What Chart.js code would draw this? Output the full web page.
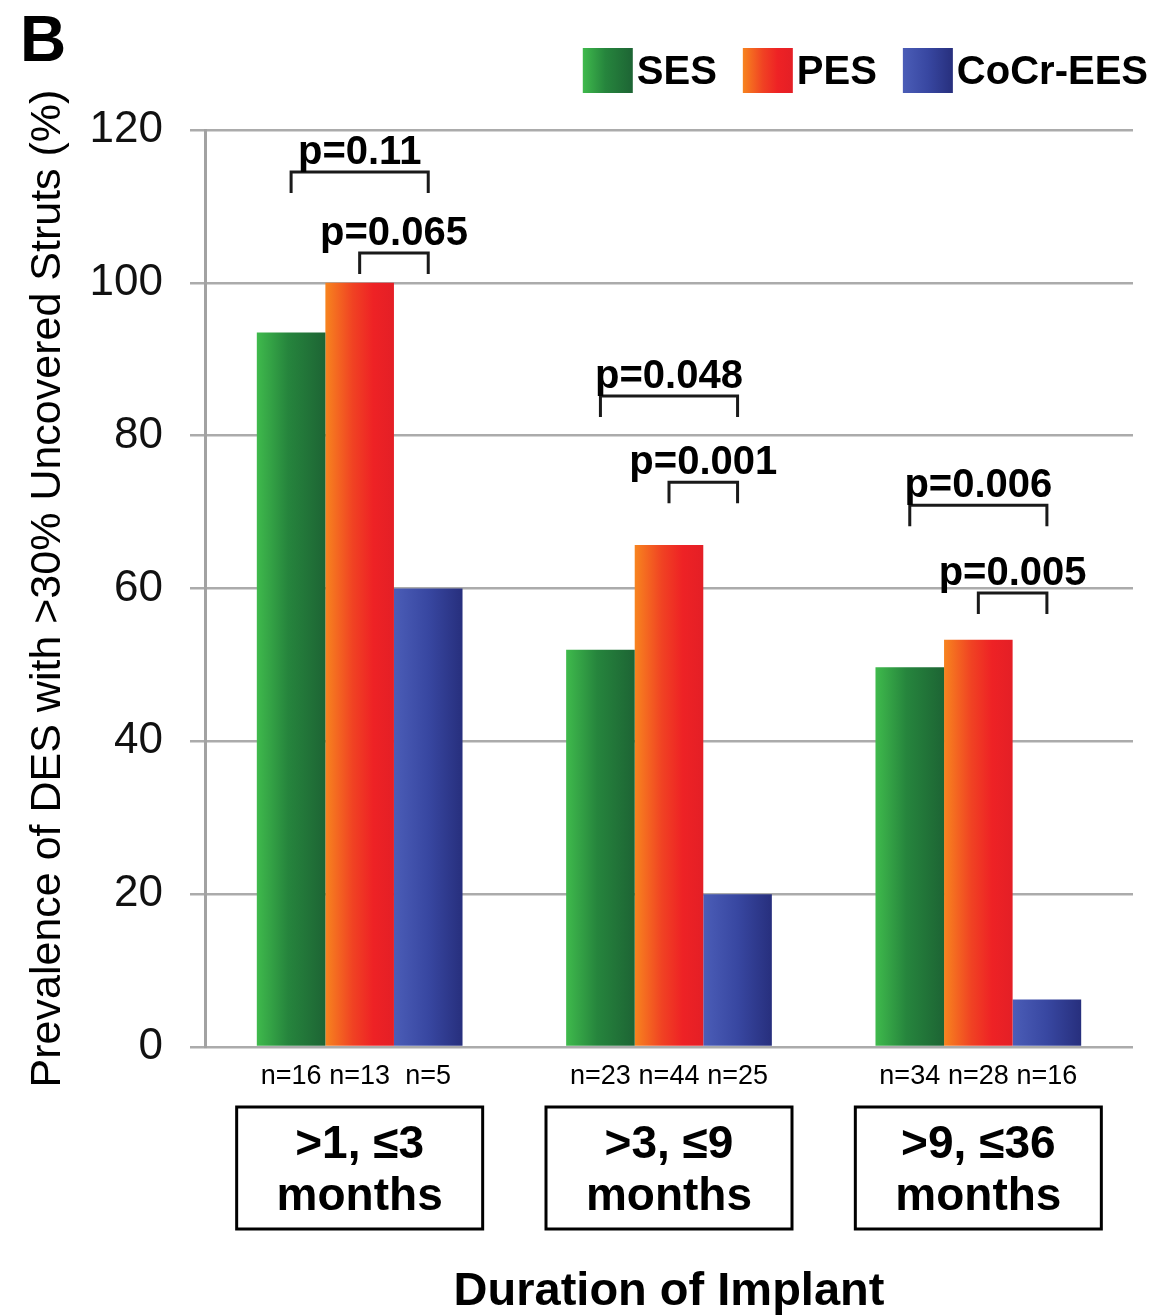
<!DOCTYPE html>
<html>
<head>
<meta charset="utf-8">
<title>Prevalence of uncovered struts by implant duration</title>
<script src="https://cdn.jsdelivr.net/npm/chart.js@4.4.1/dist/chart.umd.min.js"></script>
<style>
  html, body { margin: 0; padding: 0; background: #fff; }
  #wrap { width: 1174px; height: 1316px; position: relative; }
</style>
</head>
<body>
<div id="wrap"><canvas id="chart"></canvas></div>
<script>
// Data
const durationLabels = [['>1, \u22643', 'months'], ['>3, \u22649', 'months'], ['>9, \u226436', 'months']];
const seriesNames = ['SES', 'PES', 'CoCr-EES'];
const sesValues = [93.5, 52, 49.7];
const pesValues = [100, 65.7, 53.3];
const eesValues = [60, 20, 6.2];
const sesCounts = [16, 23, 34];
const pesCounts = [13, 44, 28];
const eesCounts = [5, 25, 16];
const yMin = 0, yMax = 120, yStep = 20;
// p-value brackets: [group, from series, to series, height (%), label]
const pBrackets = [
    [0, 0, 2, 114.5, 'p=0.11'],
    [0, 1, 2, 103.9, 'p=0.065'],
    [1, 0, 2, 85.2, 'p=0.048'],
    [1, 1, 2, 73.9, 'p=0.001'],
    [2, 0, 2, 70.9, 'p=0.006'],
    [2, 1, 2, 59.4, 'p=0.005']
];

const FONT = '"Liberation Sans", Arial, Helvetica, sans-serif';
Chart.defaults.font.family = FONT;
Chart.defaults.color = '#111';

// horizontal gradient for every bar, light on the left, dark on the right
const barStops = [
    [[0, '#3fba4c'], [0.45, '#26853d'], [1, '#1d6434']],
    [[0, '#f7841f'], [0.4, '#f04223'], [0.7, '#ee2225'], [1, '#e41f26']],
    [[0, '#4b5db7'], [0.5, '#3847a1'], [1, '#272f7d']]
];
const counts = [sesCounts, pesCounts, eesCounts];

function fillGradient(ctx, x0, x1, stops) {
    const g = ctx.createLinearGradient(x0, 0, x1, 0);
    stops.forEach(s => g.addColorStop(s[0], s[1]));
    return g;
}

const figurePlugin = {
    id: 'figure',
    beforeDatasetsDraw(chart) {
        const ctx = chart.ctx;
        chart.data.datasets.forEach((ds, i) => {
            chart.getDatasetMeta(i).data.forEach(bar => {
                const g = fillGradient(ctx, bar.x - bar.width / 2, bar.x + bar.width / 2, barStops[i]);
                bar.options = Object.assign({}, bar.options, { backgroundColor: g });
            });
        });
    },
    afterDraw(chart) {
        const ctx = chart.ctx;
        const area = chart.chartArea;
        const y = chart.scales.y;
        const x = chart.scales.x;
        ctx.save();

        // panel letter
        ctx.fillStyle = '#000';
        ctx.font = 'bold 64px ' + FONT;
        ctx.textAlign = 'left';
        ctx.textBaseline = 'alphabetic';
        ctx.fillText('B', 20, 61);

        // legend (right aligned above the plot)
        ctx.font = 'bold 40px ' + FONT;
        ctx.textBaseline = 'middle';
        const boxW = 50, boxH = 45, gapText = 4, gapItem = 26;
        const widths = seriesNames.map(n => boxW + gapText + ctx.measureText(n).width);
        let lx = 1148 - widths.reduce((a, b) => a + b, 0) - gapItem * (seriesNames.length - 1);
        seriesNames.forEach((name, i) => {
            ctx.fillStyle = fillGradient(ctx, lx, lx + boxW, barStops[i]);
            ctx.fillRect(lx, 48, boxW, boxH);
            ctx.fillStyle = '#000';
            ctx.fillText(name, lx + boxW + gapText, 73);
            lx += widths[i] + gapItem;
        });

        // p-value brackets
        ctx.strokeStyle = '#1a1a1a';
        ctx.lineWidth = 3;
        ctx.font = 'bold 40px ' + FONT;
        ctx.textAlign = 'center';
        ctx.textBaseline = 'alphabetic';
        pBrackets.forEach(b => {
            const x0 = chart.getDatasetMeta(b[1]).data[b[0]].x;
            const x1 = chart.getDatasetMeta(b[2]).data[b[0]].x;
            const top = y.getPixelForValue(b[3]);
            ctx.beginPath();
            ctx.moveTo(x0, top + 21);
            ctx.lineTo(x0, top);
            ctx.lineTo(x1, top);
            ctx.lineTo(x1, top + 21);
            ctx.stroke();
            ctx.fillStyle = '#000';
            ctx.fillText(b[4], (x0 + x1) / 2, top - 8);
        });

        // sample sizes under each bar
        ctx.font = '27px ' + FONT;
        ctx.textBaseline = 'middle';
        counts.forEach((list, i) => {
            chart.getDatasetMeta(i).data.forEach((bar, j) => {
                ctx.fillText('n=' + list[j], bar.x, area.bottom + 30);
            });
        });

        // boxes around the duration labels
        ctx.strokeStyle = '#000';
        ctx.lineWidth = 3;
        durationLabels.forEach((l, i) => {
            const cx = x.getPixelForTick(i);
            ctx.strokeRect(cx - 123, area.bottom + 60, 246, 122);
        });
        ctx.restore();
    }
};

function makeDataset(label, values) {
    return {
        label: label,
        data: values,
        backgroundColor: () => '#888',
        borderWidth: 0,
        barPercentage: 1.0,
        categoryPercentage: 0.665
    };
}

document.addEventListener('DOMContentLoaded', function() {
    const ctx = document.getElementById('chart').getContext('2d');
    new Chart(ctx, {
        type: 'bar',
        data: {
            labels: durationLabels,
            datasets: [
                makeDataset(seriesNames[0], sesValues),
                makeDataset(seriesNames[1], pesValues),
                makeDataset(seriesNames[2], eesValues)
            ]
        },
        options: {
            responsive: true,
            maintainAspectRatio: false,
            animation: false,
            events: [],
            layout: { padding: { top: 130, right: 41, left: 0, bottom: 0 } },
            plugins: { legend: { display: false }, tooltip: { enabled: false } },
            scales: {
                x: {
                    grid: { display: false, drawTicks: false },
                    border: { display: false },
                    ticks: {
                        padding: 72,
                        color: '#000',
                        font: { size: 46, weight: 'bold', lineHeight: 1.13 },
                        maxRotation: 0
                    },
                    title: {
                        display: true,
                        text: 'Duration of Implant',
                        color: '#000',
                        font: { size: 47, weight: 'bold', lineHeight: 1 },
                        padding: { top: 0, bottom: 0 }
                    },
                    afterFit: function(scale) { scale.height = 269; }
                },
                y: {
                    min: yMin,
                    max: yMax,
                    ticks: {
                        stepSize: yStep,
                        padding: 27,
                        color: '#111',
                        font: { size: 44 }
                    },
                    grid: {
                        color: '#ababab',
                        lineWidth: 2.5,
                        tickLength: 15,
                        tickColor: '#ababab'
                    },
                    border: { display: true, color: '#a2a2a2', width: 3 },
                    title: {
                        display: true,
                        text: 'Prevalence of DES with >30% Uncovered Struts (%)',
                        color: '#000',
                        font: { size: 43, lineHeight: 1.2 },
                        padding: { top: 22, bottom: 0 }
                    },
                    afterFit: function(scale) { scale.width = 205; }
                }
            }
        },
        plugins: [figurePlugin]
    });
});
</script>
</body>
</html>
